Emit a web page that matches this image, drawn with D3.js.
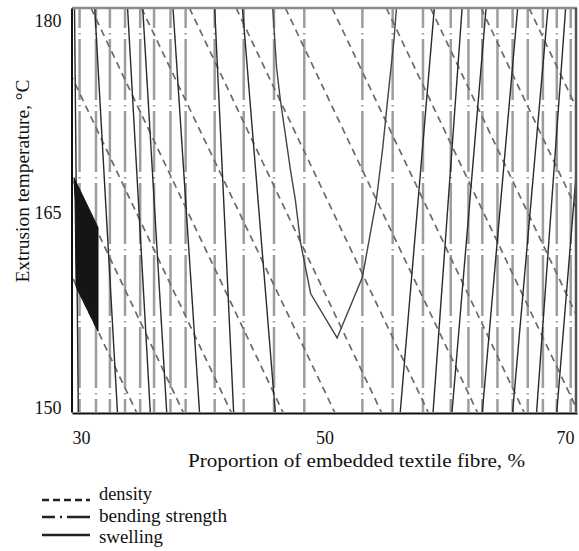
<!DOCTYPE html>
<html><head><meta charset="utf-8">
<script src="https://cdn.jsdelivr.net/npm/d3@7"></script>
<style>
body{margin:0;background:#fff}
text{font-family:"Liberation Serif","Times New Roman",serif;fill:#111}
</style>
</head><body>
<svg id="c" width="579" height="551"></svg>
<script>
// ---- data (x = proportion of fibre %, y = extrusion temperature °C) ----
const xTicks = [30, 50, 70];
const yTicks = [150, 165, 180];
const xTitle = "Proportion of embedded textile fibre, %";
const yTitle = "Extrusion temperature, °C";
const legendLabels = ["density", "bending strength", "swelling"];

// bending strength contours (vertical), x position
const bendingX = [30.6, 31.9, 33.0, 34.2, 35.4, 36.5, 37.8, 39.0, 41.3, 43.6, 46.0, 48.4,
                  53.0, 55.4, 57.8, 60.0, 61.4, 62.5, 63.7, 64.9, 66.1, 67.3, 68.4, 69.5];

// density contours: x at 180 °C and x at 150 °C
const densityTop    = [19.9, 23.6, 27.4, 31.5, 35.5, 39.3, 43.0, 46.9, 50.6, 54.9, 58.4, 62.4, 66.2, 70.0];
const densityBottom = [35.1, 38.8, 42.6, 46.7, 50.8, 54.5, 58.2, 62.1, 65.8, 70.1, 73.6, 77.6, 81.4, 85.2];

// swelling contours (near-vertical): x at 180 °C and x at 150 °C
const swellingTop    = [30.2, 31.8, 34.4, 35.6, 38.0, 41.3, 43.5, 58.7, 60.9, 62.8, 65.3, 67.7, 69.1, 71.0];
const swellingBottom = [30.5, 33.6, 36.2, 37.5, 40.1, 42.8, 46.1, 56.0, 58.6, 60.1, 62.5, 64.9, 66.8, 68.4];

// swelling V-shaped contour
const swellingVx = [45.9, 46.2, 46.5, 47.3, 47.7, 48.1, 48.9, 51.0, 53.0, 54.1, 54.6, 55.0, 55.5, 55.7];
const swellingVy = [180, 175.6, 173.2, 168.0, 165.7, 162.6, 158.8, 155.5, 160.0, 165.7, 169.5, 173.2, 177.6, 180];

// filled optimum region
const optimumX = [30.16, 32.06, 32.06, 30.32, 30.24];
const optimumY = [167.4, 163.7, 156.0, 159.3, 165.7];

// ---- drawing ----
const svg = d3.select("#c");
const x = d3.scaleLinear().domain([30, 70]).range([72, 577]);
const y = d3.scaleLinear().domain([150, 180]).range([412, 8]);
const line = d3.line().x(d => x(d[0])).y(d => y(d[1]));

svg.append("defs").append("clipPath").attr("id", "clip")
  .append("rect").attr("x", x(30)).attr("y", y(180))
  .attr("width", x(70) - x(30)).attr("height", y(150) - y(180));

const plot = svg.append("g").attr("clip-path", "url(#clip)");

// bending strength: gray dash-dot
plot.selectAll(".bend").data(bendingX).join("path")
  .attr("d", v => line([[v, 180], [v, 150]]))
  .attr("fill", "none").attr("stroke", "#9d9d9d").attr("stroke-width", 2.5)
  .attr("stroke-dasharray", "61,5,1.5,4.5").attr("stroke-dashoffset", 41);

// density: dashed
plot.selectAll(".dens").data(densityTop.map((t, i) => [t, densityBottom[i]])).join("path")
  .attr("d", d => line([[d[0], 180], [d[1], 150]]))
  .attr("fill", "none").attr("stroke", "#6a6a6a").attr("stroke-width", 1.7)
  .attr("stroke-dasharray", "7,5");

// swelling: solid
plot.selectAll(".swell").data(swellingTop.map((t, i) => [t, swellingBottom[i]])).join("path")
  .attr("d", d => line([[d[0], 180], [d[1], 150]]))
  .attr("fill", "none").attr("stroke", "#2a2a2a").attr("stroke-width", 1.4);

plot.append("path")
  .attr("d", line(swellingVx.map((v, i) => [v, swellingVy[i]])))
  .attr("fill", "none").attr("stroke", "#444").attr("stroke-width", 1.4);

plot.append("path")
  .attr("d", line(optimumX.map((v, i) => [v, optimumY[i]])) + "Z")
  .attr("fill", "#151515").attr("stroke", "#151515").attr("stroke-width", 1);

// frame
svg.append("line").attr("x1", x(30)).attr("x2", x(70)).attr("y1", y(180)).attr("y2", y(180))
  .attr("stroke", "#8a8a8a").attr("stroke-width", 2.5);
svg.append("line").attr("x1", x(70) - 1).attr("x2", x(70) - 1).attr("y1", y(180)).attr("y2", y(150))
  .attr("stroke", "#555").attr("stroke-width", 2.5);

// axes
const gx = svg.append("g").attr("transform", `translate(0,${y(150) + 1})`)
  .call(d3.axisBottom(x).tickValues(xTicks).tickSize(0).tickPadding(0).tickFormat(d3.format("d")));
gx.select(".domain").attr("stroke", "#111").attr("stroke-width", 2.2);
gx.selectAll("text").attr("font-size", 18).attr("dy", 31)
  .attr("text-anchor", (d, i) => i === 0 ? "start" : (i === xTicks.length - 1 ? "end" : "middle"))
  .attr("dx", (d, i) => i === xTicks.length - 1 ? -3 : 0)
  .attr("font-family", '"Liberation Serif", serif').attr("fill", "#111");

const gy = svg.append("g").attr("transform", `translate(${x(30) - 0.5},0)`)
  .call(d3.axisLeft(y).tickValues(yTicks).tickSize(0).tickPadding(10).tickFormat(d3.format("d")));
gy.select(".domain").attr("stroke", "#111").attr("stroke-width", 2);
gy.selectAll("text").attr("font-size", 18)
  .attr("font-family", '"Liberation Serif", serif').attr("fill", "#111")
  .attr("dy", d => d === 180 ? "1.0em" : (d === 150 ? "0.1em" : "0.45em"));

// titles
svg.append("text").attr("x", 356.5).attr("y", 467).attr("text-anchor", "middle")
  .attr("font-size", 18).attr("textLength", 337).attr("lengthAdjust", "spacingAndGlyphs").text(xTitle);
svg.append("text").attr("transform", "translate(29,181) rotate(-90)")
  .attr("text-anchor", "middle").attr("font-size", 18)
  .attr("textLength", 203).attr("lengthAdjust", "spacingAndGlyphs").text(yTitle);

// legend
const legendStyles = ["7,4", "13,5,2,5,30", null];
const legendY = [500, 517, 535];
const textY = [500, 522, 543];
const textLen = [53, 128, 64];
const lg = svg.append("g");
legendLabels.forEach((lab, i) => {
  lg.append("line").attr("x1", 42).attr("x2", 90).attr("y1", legendY[i]).attr("y2", legendY[i])
    .attr("stroke", "#222").attr("stroke-width", 2.6)
    .attr("stroke-dasharray", legendStyles[i]);
  lg.append("text").attr("x", 99).attr("y", textY[i]).attr("font-size", 18)
    .attr("textLength", textLen[i]).attr("lengthAdjust", "spacingAndGlyphs").text(lab);
});
</script>
</body></html>
